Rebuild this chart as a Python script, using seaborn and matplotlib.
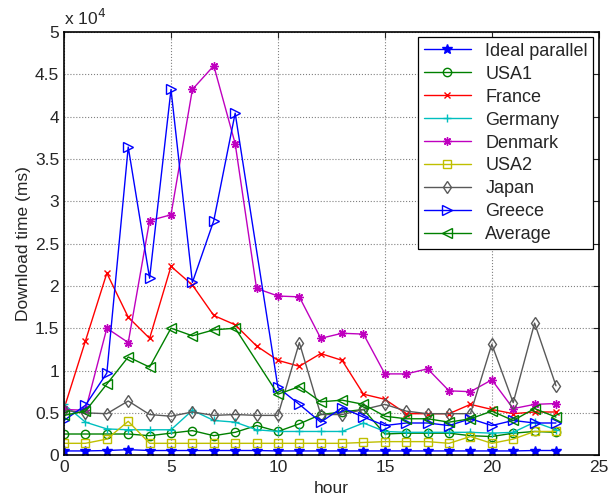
import numpy as np
import pandas as pd
import matplotlib
matplotlib.use("Agg")
import matplotlib.pyplot as plt
import seaborn as sns

hours = list(range(24))

# download times in ms (nan = no sample that hour)
ideal = [500, 500, 550, 650, 550, 550, 550, 550, 550, 550, 500, 500,
         500, 500, 500, 500, 500, 500, 500, 500, 500, 500, 550, 550]
usa1 = [2500, 2500, 2500, 2500, 2300, 2600, 2900, 2300, 2700, 3500, 2800, 3700,
        4800, 5100, 5400, 2500, 2600, 2600, 2600, 2300, 2200, 2600, 2800, 2700]
france = [5500, 13500, 21500, 16300, 13800, 22300, 20100, 16500, 15400, 12900, 11200, 10500,
          12000, 11200, 7200, 6600, 4900, 4900, 4900, 6000, 5400, 4900, 5100, 5100]
germany = [6000, 3900, 3100, 3000, 3000, 3000, 5300, 4100, 3900, 3000, 2800, 2800,
           2800, 2800, 3800, 2800, 2700, 2700, 2700, 2700, 2600, 2700, 3900, 3000]
denmark = [5400, 5300, 15000, 13300, 27700, 28400, 43200, 46000, 36800, 19700, 18800, 18700,
           13800, 14400, 14300, 9600, 9600, 10200, 7600, 7500, 8900, 5500, 6000, 6100]
usa2 = [1400, 1400, 1900, 4000, 1400, 1400, 1400, 1400, 1400, 1400, 1400, 1400,
        1400, 1400, 1500, 1600, 1600, 1600, 1400, 2200, 1400, 1900, 2800, 2800]
japan = [5300, 5000, 4900, 6400, 4800, 4600, 5100, 4700, 4800, 4700, 4700, 13300,
         4800, 4800, 5400, 6000, 5200, 4900, 4900, 4900, 13100, 6200, 15600, 8200]
greece = [4100, 5900, 9700, 36400, 20900, 43200, 20400, 27700, 40400, np.nan, 8000, 6000,
          3900, 5600, 4500, 3500, 3800, 3800, 3500, 4300, 3500, 4100, 3800, 3800]
average = [4700, 5200, 8400, 11600, 10400, 15000, 14100, 14800, 15000, np.nan, 7200, 8100,
           6300, 6500, 6000, 4600, 4300, 4300, 3900, 4300, 5200, 4100, 5500, 4500]

# name, values, colour, marker, marker size, filled
series = [
    ("Ideal parallel", ideal, (0, 0, 1), "*", 7, True),
    ("USA1", usa1, (0, 0.5, 0), "o", 6, False),
    ("France", france, (1, 0, 0), "x", 4, False),
    ("Germany", germany, (0, 0.75, 0.75), "+", 6, False),
    ("Denmark", denmark, (0.75, 0, 0.75), (8, 2, 0), 6, False),
    ("USA2", usa2, (0.75, 0.75, 0), "s", 5.5, False),
    ("Japan", japan, (0.35, 0.35, 0.35), "d", 6.5, False),
    ("Greece", greece, (0, 0, 1), ">", 6.5, False),
    ("Average", average, (0, 0.5, 0), "<", 6.5, False),
]

sns.set_style("white")
plt.rcParams['font.family'] = ['Liberation Sans', 'DejaVu Sans']

fig = plt.figure(figsize=(6.16, 4.98), dpi=100)
ax = fig.add_axes([0.104, 0.086, 0.868, 0.85])

for name, vals, col, mk, ms, filled in series:
    df = pd.DataFrame({"hour": hours, "ms": vals}).dropna()
    sns.lineplot(data=df, x="hour", y="ms", ax=ax, color=col, marker=mk,
                 markersize=ms, markerfacecolor=col if filled else "none",
                 markeredgecolor=col, markeredgewidth=1.0, linewidth=1.0,
                 label=name)

ax.set_xlim(0, 25)
ax.set_ylim(0, 50000)
ax.set_xticks(range(0, 26, 5))
ax.set_yticks(np.arange(0, 50001, 5000))
ax.set_yticklabels(["0", "0.5", "1", "1.5", "2", "2.5", "3", "3.5", "4", "4.5", "5"])
ax.tick_params(direction="in", top=True, right=True, labelsize=12.5, length=4)
ax.grid(True, linestyle=":", color="0.5", linewidth=0.8)
for sp in ax.spines.values():
    sp.set_color("black")
    sp.set_linewidth(1.2)

ax.set_xlabel("hour", fontsize=12.5, labelpad=4)
ax.set_ylabel("Download time (ms)", fontsize=12.5, labelpad=3)
ax.text(0, 1.01, r"x 10$^4$", transform=ax.transAxes, fontsize=12.5,
        ha="left", va="bottom")

leg = ax.legend(loc="upper right", fontsize=13, frameon=True, fancybox=False,
                edgecolor="black", framealpha=1, borderpad=0.3,
                labelspacing=0.33, handlelength=2.6, borderaxespad=0.3)
leg.get_frame().set_linewidth(0.9)

fig.savefig("out.png", dpi=100)
